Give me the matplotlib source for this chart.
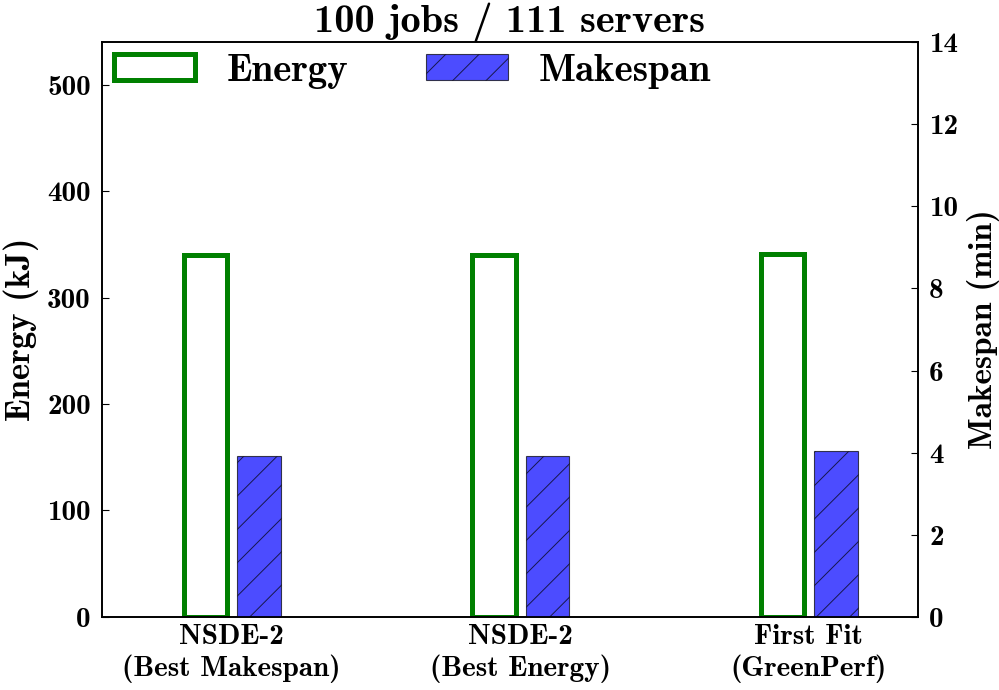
import matplotlib
matplotlib.use('Agg')
import matplotlib.pyplot as plt
import numpy as np

# Дані
labels = ['NSDE-2\n(Best Makespan)', 'NSDE-2\n(Best Energy)', 'First Fit\n(GreenPerf)']
energy = [340, 340, 341]        # kJ
makespan = [3.93, 3.93, 4.05]   # min

fnt = 'cmb10'
plt.rcParams['font.family'] = fnt
plt.rcParams['axes.unicode_minus'] = False
plt.rcParams['hatch.linewidth'] = 0.7

ind = np.arange(len(labels))
width = 0.15

fig = plt.figure(figsize=(9.99, 6.9), dpi=100)
ax = fig.add_axes([0.102, 0.106, 0.817, 0.833])
ax2 = ax.twinx()

b1 = ax.bar(ind - 0.09, energy, width, facecolor='white', edgecolor='green', linewidth=3.6)
b2 = ax2.bar(ind + 0.095, makespan, width, color='blue', alpha=0.7, hatch='/',
             edgecolor='black', linewidth=0.8)

ax.set_xlim(-0.45, 2.38)
ax.set_ylim(0, 540)
ax2.set_ylim(0, 14)
ax.set_yticks([0, 100, 200, 300, 400, 500])
ax2.set_yticks(range(0, 15, 2))

ax.set_xticks(ind)
ax.set_xticklabels(labels, fontsize=21)
ax.tick_params(axis='x', length=0, pad=5)
ax.tick_params(axis='y', direction='in', length=5, labelsize=21, pad=8)
ax2.tick_params(axis='y', direction='in', length=5, labelsize=21, pad=8)

ax.set_ylabel('Energy (kJ)', fontsize=25, labelpad=6)
ax2.set_ylabel('Makespan (min)', fontsize=24, labelpad=6)
ax.set_title('100 jobs / 111 servers', fontsize=29, pad=2)

for a in (ax, ax2):
    for s in a.spines.values():
        s.set_linewidth(1.2)

ax2.legend([b1, b2], ['Energy', 'Makespan'], loc='upper left', ncol=2, frameon=False,
           fontsize=28, handlelength=2.1, handleheight=0.65, columnspacing=2.0,
           handletextpad=0.8, borderaxespad=0.15, borderpad=0.15)

fig.savefig('out.png', dpi=100)
